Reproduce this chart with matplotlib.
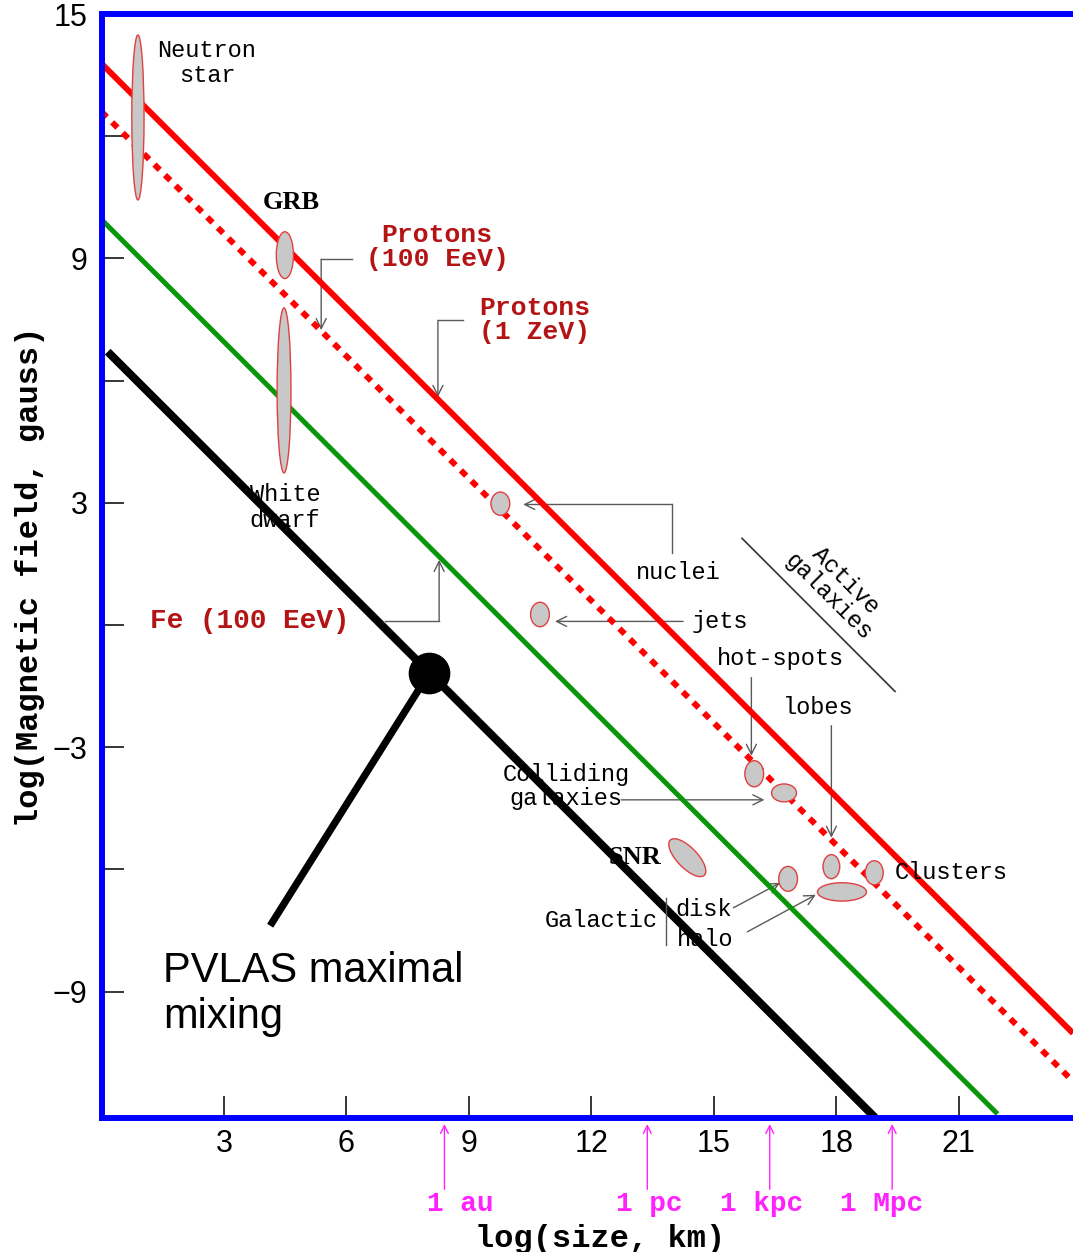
"""Hillas diagram: magnetic field versus size of cosmic accelerators."""

import matplotlib.pyplot as plt
from matplotlib.patches import Ellipse

MONO = "Liberation Mono"
SERIF = "Liberation Serif"
SANS = "Liberation Sans"

# Confinement lines: log B + log R = const
line_names = ["Protons (1 ZeV)", "Protons (100 EeV)", "Fe (100 EeV)", "PVLAS"]
line_offsets = [13.78, 12.6, 9.95, 6.86]
line_x_start = [0.0, 0.0, 0.0, 0.15]
line_x_end = [23.8, 23.8, 21.95, 18.95]
line_colors = ["#ff0000", "#ff0000", "#0a960a", "#000000"]
line_widths = [4.3, 4.3, 3.6, 5.8]
line_styles = ["-", (0, (1.25, 1.25)), "-", "-"]

# Source regions (log size, log B, extents, tilt)
src_names = ["Neutron star", "GRB", "White dwarf", "AGN nuclei", "AGN jets",
             "hot-spots", "Colliding galaxies", "SNR", "lobes", "Clusters",
             "Galactic disk", "Galactic halo"]
src_x = [0.89, 4.49, 4.47, 9.77, 10.74, 15.99, 16.72, 14.35, 17.88, 18.93, 16.82, 18.14]
src_y = [12.46, 9.08, 5.76, 2.98, 0.26, -3.65, -4.12, -5.71, -5.93, -6.08, -6.23, -6.55]
src_w = [0.30, 0.42, 0.34, 0.46, 0.46, 0.46, 0.61, 1.20, 0.41, 0.44, 0.46, 1.20]
src_h = [4.05, 1.15, 4.05, 0.57, 0.60, 0.64, 0.44, 0.50, 0.59, 0.59, 0.61, 0.45]
src_angle = [0, 0, 0, 0, 0, 0, 0, -46, 0, 0, 0, 0]

# PVLAS point
pvlas_x, pvlas_y = 8.03, -1.17
pvlas_label_end = (4.13, -7.38)

# Reference distances below the size axis
dist_labels = ["1 au", "1 pc", "1 kpc", "1 Mpc"]
dist_x = [8.4, 13.37, 16.37, 19.37]
dist_label_x = [8.78, 13.42, 16.16, 19.1]

x_ticks = [3, 6, 9, 12, 15, 18, 21]
y_ticks = [-9, -3, 3, 9, 15]
y_minor = [-6, 0, 6, 12]

W, H = 1073, 1252
fig = plt.figure(figsize=(W / 100, H / 100), dpi=100)
ax = fig.add_axes([101.6 / W, (H - 1118) / H, 971.4 / W, 1104 / H])
ax.set_xlim(0, 23.8)
ax.set_ylim(-12.1, 15)

for side in ["left", "bottom", "top"]:
    ax.spines[side].set_color("#0000ff")
    ax.spines[side].set_linewidth(4.3)
ax.spines["right"].set_visible(False)

ax.set_xticks(x_ticks)
ax.set_yticks(y_ticks)
ax.set_yticks(y_minor, minor=True)
ax.tick_params(which="both", direction="in", length=16, width=1.1, color="black",
               top=False, right=False)
ax.tick_params(axis="x", pad=8)
ax.tick_params(axis="y", pad=10)
for lab in ax.get_xticklabels() + ax.get_yticklabels():
    lab.set_fontfamily(SANS)
    lab.set_fontsize(22)

ax.set_xlabel("log(size, km)", fontfamily=MONO, fontsize=23, fontweight="bold")
ax.xaxis.set_label_coords(0.513, -0.096)
ax.set_ylabel("log(Magnetic field, gauss)", fontfamily=MONO, fontsize=23,
              fontweight="bold")
ax.yaxis.set_label_coords(-0.058, 0.49)

for off, x0, x1, col, lw, ls in zip(line_offsets, line_x_start, line_x_end,
                                     line_colors, line_widths, line_styles):
    ax.plot([x0, x1], [off - x0, off - x1], color=col, lw=lw, ls=ls,
            solid_capstyle="butt", dash_capstyle="butt", zorder=2)

for x, y, w, h, a in zip(src_x, src_y, src_w, src_h, src_angle):
    ax.add_patch(Ellipse((x, y), w, h, angle=a, facecolor="#c8c8c8",
                         edgecolor="#e04040", lw=1.0, zorder=3))

# PVLAS marker and its pointer line
ax.plot([pvlas_x, pvlas_label_end[0]], [pvlas_y, pvlas_label_end[1]],
        color="black", lw=5.2, solid_capstyle="butt", zorder=4)
ax.plot(pvlas_x, pvlas_y, "o", color="black", ms=29, zorder=5)
ax.text(1.51, -9.05, "PVLAS maximal\nmixing", fontfamily=SANS, fontsize=30,
        ha="left", va="center", linespacing=1.2)

gray = "#5a5a5a"
arrow = dict(arrowstyle="->", color=gray, lw=1.0, shrinkA=0, shrinkB=0,
             mutation_scale=18)


def elbow(points):
    """Polyline connector ending in an arrow head."""
    xs, ys = zip(*points)
    ax.plot(xs[:-1], ys[:-1], color=gray, lw=1.0, zorder=1)
    ax.annotate("", xy=points[-1], xytext=points[-2], arrowprops=arrow, zorder=1)


dark_red = "#b41414"
txt = dict(fontfamily=MONO, fontsize=17, ha="center", va="center",
           multialignment="center", linespacing=1.15)
red_txt = dict(fontfamily=MONO, fontsize=19, fontweight="bold", color=dark_red,
               ha="center", va="center", linespacing=1.0)

ax.text(2.58, 13.8, "Neutron\nstar", **txt)
ax.text(4.64, 10.38, "GRB", fontfamily=SERIF, fontsize=19, fontweight="bold",
        ha="center", va="center")
ax.text(4.49, 2.88, "White\ndwarf", **txt)

ax.text(8.22, 9.28, "Protons\n(100 EeV)", **red_txt)
elbow([(6.14, 8.98), (5.38, 8.98), (5.38, 7.24)])

ax.text(10.62, 7.48, "Protons\n(1 ZeV)", **red_txt)
elbow([(8.86, 7.48), (8.24, 7.48), (8.24, 5.6)])

ax.text(3.64, 0.11, "Fe (100 EeV)", **dict(red_txt, fontsize=20))
elbow([(6.95, 0.09), (8.27, 0.09), (8.27, 1.6)])

ax.text(14.13, 1.29, "nuclei", **txt)
elbow([(13.98, 1.76), (13.98, 2.96), (10.33, 2.96)])

ax.text(15.16, 0.09, "jets", **txt)
elbow([(14.25, 0.09), (11.11, 0.09)])

ax.text(16.63, -0.82, "hot-spots", **txt)
elbow([(15.92, -1.29), (15.92, -3.21)])

ax.text(17.56, -2.03, "lobes", **txt)
elbow([(17.88, -2.47), (17.88, -5.22)])

ax.text(11.38, -3.97, "Colliding\ngalaxies", **dict(txt, linespacing=1.05))
elbow([(12.73, -4.29), (16.24, -4.29)])

ax.text(13.07, -5.71, "SNR", fontfamily=SERIF, fontsize=19, fontweight="bold",
        ha="center", va="center")
ax.text(20.82, -6.08, "Clusters", **txt)

ax.text(12.24, -7.26, "Galactic", **txt)
ax.plot([13.83, 13.83], [-6.70, -7.85], color=gray, lw=1.0)
ax.text(14.74, -6.97, "disk", **txt)
ax.text(14.79, -7.73, "halo", **txt)
elbow([(15.48, -6.94), (16.62, -6.33)])
elbow([(15.82, -7.53), (17.5, -6.62)])

# Active galaxies bracket
ax.plot([15.69, 19.44], [2.13, -1.63], color="#333333", lw=1.2)
ax.text(18.02, 0.9, "Active\ngalaxies", rotation=-45, rotation_mode="anchor",
        **dict(txt, linespacing=1.0))

# Distance markers under the size axis
magenta = "#ff22ff"
for lab, x, lx in zip(dist_labels, dist_x, dist_label_x):
    ax.annotate("", xy=(x, -12.25), xytext=(x, -13.85),
                arrowprops=dict(arrowstyle="->", color=magenta, lw=1.0,
                                shrinkA=0, shrinkB=0, mutation_scale=14),
                annotation_clip=False)
    ax.text(lx, -14.2, lab, fontfamily=MONO, fontsize=20,
            fontweight="bold", color=magenta, ha="center", va="center",
            clip_on=False)

fig.savefig("out.png", dpi=100)
